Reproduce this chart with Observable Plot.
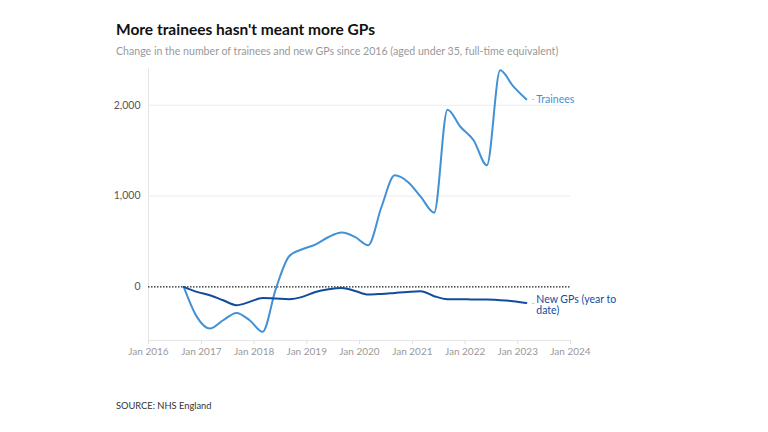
<!DOCTYPE html>
<html>
<head>
<meta charset="utf-8">
<script src="https://cdn.jsdelivr.net/npm/d3@7"></script>
<script src="https://cdn.jsdelivr.net/npm/@observablehq/plot@0.6"></script>
<style>
  html, body { margin: 0; padding: 0; background: #fff; }
  body { width: 768px; height: 432px; position: relative; overflow: hidden; font-family: Lato, "Open Sans", sans-serif; }
  #title { position: absolute; left: 116px; top: 20px; font-size: 15.5px; font-weight: 700; color: #111; }
  #subtitle { position: absolute; left: 116px; top: 45px; font-size: 10.6px; color: #999; }
  #chart { position: absolute; left: 0; top: 60px; }
  #source { position: absolute; left: 116px; top: 400px; font-size: 9.3px; color: #333; }
</style>
</head>
<body>
<div id="title">More trainees hasn't meant more GPs</div>
<div id="subtitle">Change in the number of trainees and new GPs since 2016 (aged under 35, full-time equivalent)</div>
<div id="chart"></div>
<div id="source">SOURCE: NHS England</div>
<script>
const dates = ["2016-09","2016-12","2017-03","2017-06","2017-09","2017-12","2018-03","2018-06","2018-09","2018-12","2019-03","2019-06","2019-09","2019-12","2020-03","2020-06","2020-09","2020-12","2021-03","2021-06","2021-09","2021-12","2022-03","2022-06","2022-09","2022-12","2023-03"];
const trainees = [0,-330,-458,-367,-286,-367,-495,-18,338,415,466,550,598,550,459,880,1229,1156,991,818,1952,1761,1615,1339,2385,2209,2066];
const newGPs = [0,-55,-91,-147,-201,-165,-121,-128,-135,-110,-56,-25,-11,-44,-84,-77,-66,-55,-48,-102,-135,-135,-139,-139,-146,-157,-176];
const yTicks = [0,1000,2000];
const xTickYears = [2016,2017,2018,2019,2020,2021,2022,2023,2024];

const parse = d3.utcParse("%Y-%m");
const rows = [];
dates.forEach((d,i) => {
  rows.push({date: parse(d), value: trainees[i], series: "Trainees"});
  rows.push({date: parse(d), value: newGPs[i], series: "New GPs"});
});
const colors = {"Trainees": "#4391d5", "New GPs": "#114c9c"};
const lastT = rows.filter(r => r.series === "Trainees").at(-1);
const lastG = rows.filter(r => r.series === "New GPs").at(-1);
const xTicks = xTickYears.map(y => new Date(Date.UTC(y,0,1)));
const xDomain = [xTicks[0], xTicks.at(-1)];
const yDomain = [-590, 2405];

const chart = Plot.plot({
  width: 768,
  height: 300,
  marginLeft: 148,
  marginRight: 198,
  marginTop: 8,
  marginBottom: 20,
  style: {fontFamily: "Lato, 'Open Sans', sans-serif", fontSize: "10px", background: "transparent"},
  x: {type: "utc", domain: xDomain, label: null},
  y: {domain: yDomain, label: null},
  marks: [
    Plot.ruleY(yTicks.filter(v => v !== 0), {stroke: "#ececec", strokeWidth: 1}),
    Plot.ruleY([yDomain[0]], {stroke: "#e6e6e6"}),
    Plot.ruleX([xDomain[0]], {stroke: "#e6e6e6"}),
    Plot.axisX({ticks: xTicks, tickFormat: d3.utcFormat("Jan %Y"), tickSize: 4, stroke: "#e0e0e0", color: "#999", fontSize: 10, tickPadding: 3, label: null}),
    Plot.axisY({ticks: yTicks, tickFormat: d3.format(","), tickSize: 0, tickPadding: 8, color: "#555", fontSize: 10.5, label: null}),
    Plot.ruleY([0], {stroke: "#222", strokeDasharray: "1.5,1.5", strokeWidth: 1.3}),
    Plot.line(rows, {x: "date", y: "value", z: "series", stroke: d => colors[d.series], strokeWidth: 2, curve: "monotone-x"}),
    Plot.text([lastT, lastG], {x: "date", y: "value", text: () => "-", dx: 5, textAnchor: "start", fill: "#bbb", fontSize: 10}),
    Plot.text([lastT], {x: "date", y: "value", text: () => "Trainees", dx: 10, textAnchor: "start", fill: colors["Trainees"], fontSize: 10.5}),
    Plot.text([lastG], {x: "date", y: "value", text: () => "New GPs (year to\ndate)", dx: 10, dy: 2, lineHeight: 1.05, textAnchor: "start", fill: colors["New GPs"], fontSize: 10.5})
  ]
});
document.getElementById("chart").appendChild(chart);
</script>
</body>
</html>
